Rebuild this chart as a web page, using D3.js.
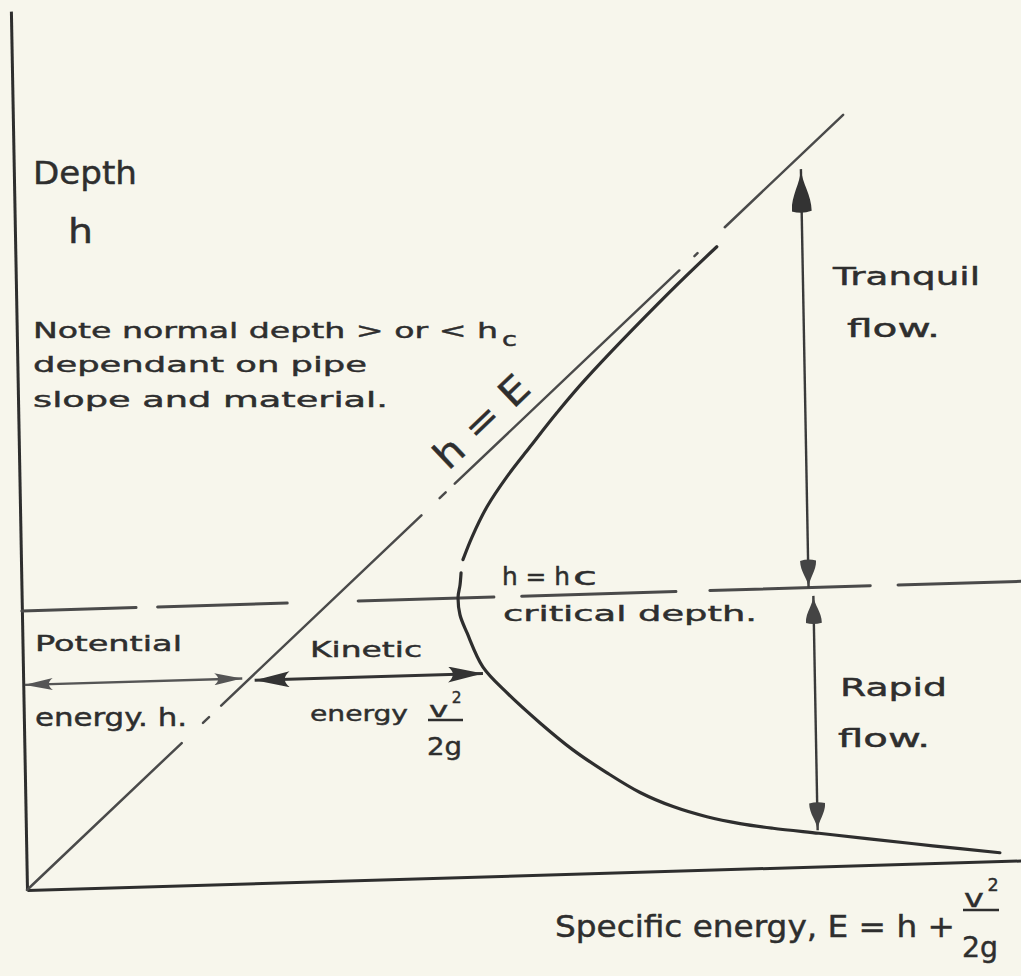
<!DOCTYPE html>
<html>
<head>
<meta charset="utf-8">
<script src="https://cdn.jsdelivr.net/npm/d3@7"></script>
<style>
  html, body { margin: 0; padding: 0; background: #f7f6ec; }
  svg { display: block; background: #f7f6ec; }
  .ink { font-family: "DejaVu Sans", sans-serif; fill: #2e2e2e; stroke: #2e2e2e; stroke-width: 0.45px; }
  .axis path.domain { stroke: #2e2e2e; stroke-width: 3px; }
</style>
</head>
<body>
<svg id="chart" width="1021" height="976"></svg>
<script>
// specific energy diagram, depth h against specific energy E (critical depth hc = 1)

// curve, [E, h]
const upperLimb = [
  [2.273, 2.231], [2.119, 2.075], [1.838, 1.768], [1.745, 1.653], [1.656, 1.534],
  [1.579, 1.429], [1.513, 1.324], [1.463, 1.218], [1.432, 1.137]
];
const lowerLimb = [
  [1.425, 1.090], [1.421, 1.047], [1.414, 1.004], [1.419, 0.940], [1.441, 0.874],
  [1.490, 0.751], [1.567, 0.655], [1.672, 0.544], [1.777, 0.444], [1.886, 0.358],
  [1.992, 0.284], [2.098, 0.230], [2.207, 0.190], [2.314, 0.162], [2.420, 0.142],
  [2.569, 0.119], [2.724, 0.095], [2.937, 0.062], [3.154, 0.030]
];

// the h = E line is drawn in pieces (h from, h to)
const hEqualsE = [[0, 0.51], [0.58, 0.60], [0.64, 1.30], [1.36, 1.38], [1.41, 2.15], [2.20, 2.21], [2.30, 2.69]];

// dashed critical depth line, E ranges
const criticalDepth = 1.0;
const criticalDashes = [[0, 0.37], [0.44, 0.86], [1.09, 1.53], [1.62, 2.12], [2.23, 2.75], [2.84, 3.24]];

// double arrows
const flowArrows = [
  { name: "tranquil", E: 2.55, from: 1.0, to: 2.5 },
  { name: "rapid", E: 2.565, from: 0.97, to: 0.13 }
];
const energyArrows = [
  { name: "potential", h: 0.735, from: 0.005, to: 0.71 },
  { name: "kinetic", h: 0.727, from: 0.75, to: 1.49 }
];

// texts
const axisTitles = ["Depth", "h", "Specific energy, E = h + "];
const noteLines = ["Note normal depth > or < h", "dependant on pipe", "slope and material."];
const regionLabels = ["Tranquil", "flow.", "Rapid", "flow."];
const energyLabels = ["Potential", "energy. h.", "Kinetic", "energy"];
const criticalLabels = ["h = h", "c", "critical depth."];
const lineLabel = "h = E";

const svg = d3.select("svg#chart");
const ink = "#2e2e2e";
const grey = "#4a4a4a";

const defs = svg.append("defs");
// barbed heads for the horizontal arrows, drop shaped heads for the vertical ones
function addHead(id, L, W, drop, colour) {
  const d = drop
    ? `M0,0 C${-0.35 * L},${-0.1 * W} ${-0.6 * L},${-W} ${-L},${-W} Q${-1.08 * L},0 ${-L},${W} C${-0.6 * L},${W} ${-0.35 * L},${0.1 * W} 0,0Z`
    : `M0,0 L${-L},${-W} Q${-0.72 * L},0 ${-L},${W}Z`;
  defs.append("marker")
    .attr("id", id)
    .attr("markerUnits", "userSpaceOnUse")
    .attr("viewBox", `${-1.1 * L} ${-W} ${1.1 * L} ${2 * W}`)
    .attr("markerWidth", 1.1 * L)
    .attr("markerHeight", 2 * W)
    .attr("refX", 0)
    .attr("refY", 0)
    .attr("orient", "auto-start-reverse")
    .append("path")
    .attr("d", d)
    .attr("fill", colour);
}
addHead("bigHead", 42, 10, true, "#333");
addHead("vHead", 27, 8, true, "#444");
addHead("potHead", 28, 6, false, "#555");
addHead("kinHead", 35, 8, false, "#333");

// the sketch is drawn slightly askew, so the plot frame is sheared a little
const frame = svg.append("g")
  .attr("transform", "matrix(0.99956,-0.02967,0.01833,0.99983,27,890)");

const x = d3.scaleLinear().domain([0, 3.24]).range([0, 1000]);
const y = d3.scaleLinear().domain([0, 3.15]).range([0, -879]);

frame.append("g").attr("class", "axis")
  .call(d3.axisBottom(x).tickValues([]).tickSizeOuter(0));
frame.append("g").attr("class", "axis")
  .call(d3.axisLeft(y).tickValues([]).tickSizeOuter(0));

// critical depth dashes
frame.selectAll("line.crit")
  .data(criticalDashes)
  .join("line")
  .attr("class", "crit")
  .attr("x1", d => x(d[0]))
  .attr("x2", d => x(d[1]))
  .attr("y1", y(criticalDepth))
  .attr("y2", y(criticalDepth))
  .attr("stroke", grey)
  .attr("stroke-width", 3)
  .attr("stroke-linecap", "round");

// h = E
frame.selectAll("line.he")
  .data(hEqualsE)
  .join("line")
  .attr("class", "he")
  .attr("x1", d => x(d[0]))
  .attr("y1", d => y(d[0]))
  .attr("x2", d => x(d[1]))
  .attr("y2", d => y(d[1]))
  .attr("stroke", grey)
  .attr("stroke-width", 2.5)
  .attr("stroke-linecap", "round");

// specific energy curve
const line = d3.line()
  .x(d => x(d[0]))
  .y(d => y(d[1]))
  .curve(d3.curveCatmullRom.alpha(0.5));

frame.selectAll("path.curve")
  .data([upperLimb, lowerLimb])
  .join("path")
  .attr("class", "curve")
  .attr("d", line)
  .attr("fill", "none")
  .attr("stroke", ink)
  .attr("stroke-width", 3.2)
  .attr("stroke-linecap", "round");

// vertical flow arrows
frame.selectAll("line.flow")
  .data(flowArrows)
  .join("line")
  .attr("class", "flow")
  .attr("x1", d => x(d.E))
  .attr("x2", d => x(d.E))
  .attr("y1", d => y(d.from))
  .attr("y2", d => y(d.to))
  .attr("stroke", "#3a3a3a")
  .attr("stroke-width", 2.4)
  .attr("marker-start", "url(#vHead)")
  .attr("marker-end", d => d.name === "tranquil" ? "url(#bigHead)" : "url(#vHead)");

// horizontal energy arrows
frame.selectAll("line.energy")
  .data(energyArrows)
  .join("line")
  .attr("class", "energy")
  .attr("x1", d => x(d.from))
  .attr("x2", d => x(d.to))
  .attr("y1", d => y(d.h))
  .attr("y2", d => y(d.h))
  .attr("stroke", d => d.name === "potential" ? "#555" : "#333")
  .attr("stroke-width", d => d.name === "potential" ? 2.4 : 3)
  .attr("marker-start", d => d.name === "potential" ? "url(#potHead)" : "url(#kinHead)")
  .attr("marker-end", d => d.name === "potential" ? "url(#potHead)" : "url(#kinHead)");

// label on the h = E line
frame.append("text")
  .attr("class", "ink")
  .attr("transform", `translate(${x(1.50)},${y(1.63)}) rotate(-42.1)`)
  .attr("text-anchor", "middle")
  .attr("dy", "0.35em")
  .attr("font-size", 38)
  .attr("textLength", 116)
  .attr("lengthAdjust", "spacingAndGlyphs")
  .text(lineLabel);

// handwritten notes
function note(str, px, py, size, len) {
  const t = svg.append("text")
    .attr("class", "ink")
    .attr("x", px)
    .attr("y", py)
    .attr("font-size", size)
    .text(str);
  if (len) t.attr("textLength", len).attr("lengthAdjust", "spacingAndGlyphs");
  return t;
}
function fraction(px, vy, bot, size, w) {
  note("v", px + 1, vy, size, w * 0.55);
  note("2", px + w * 0.68, vy - size * 0.65, size * 0.7);
  svg.append("line")
    .attr("x1", px).attr("x2", px + w)
    .attr("y1", vy + 3).attr("y2", vy + 3)
    .attr("stroke", ink).attr("stroke-width", 2.4);
  note("2g", px - 1, bot, size * 1.1, w);
}

note(axisTitles[0], 33, 184, 32, 104);
note(axisTitles[1], 68, 243, 34, 25);

note(noteLines[0], 33, 338, 22, 465);
note("c", 502, 346, 19, 15);
note(noteLines[1], 33, 372, 22, 334);
note(noteLines[2], 33, 407, 22, 355);

note(regionLabels[0], 833, 285, 25, 147);
note(regionLabels[1], 847, 337, 25, 93);
note(regionLabels[2], 840, 696, 25, 107);
note(regionLabels[3], 838, 747, 25, 92);

note(criticalLabels[0], 502, 585, 24, 68);
note(criticalLabels[1], 573, 585, 24, 24);
note(criticalLabels[2], 503, 621, 22, 254);

note(energyLabels[0], 35, 651, 22, 147);
note(energyLabels[1], 35, 726, 24, 152);
note(energyLabels[2], 310, 657, 22, 112);
note(energyLabels[3], 310, 721, 22, 98);
fraction(428, 717, 755, 22, 35);

note(axisTitles[2], 555, 937, 30, 400);
fraction(963, 907, 957, 25, 36);
</script>
</body>
</html>
